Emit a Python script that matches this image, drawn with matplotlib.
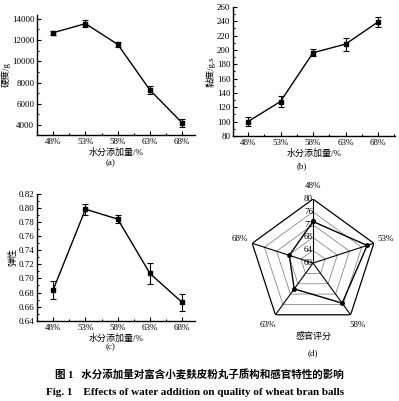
import numpy as np
import matplotlib
matplotlib.use('Agg')
import matplotlib.pyplot as plt
from matplotlib.ticker import MultipleLocator, FormatStrFormatter

plt.rcParams['font.family'] = ['Liberation Serif', 'Noto Sans CJK SC']
plt.rcParams['axes.unicode_minus'] = False

water = ['48%', '53%', '58%', '63%', '68%']

hardness = [12700, 13550, 11600, 7300, 4200]
hardness_err = [200, 300, 250, 400, 400]

viscosity = [100, 128, 196, 208, 239]
viscosity_err = [6, 7, 5, 9, 7]

springiness = [0.684, 0.798, 0.784, 0.707, 0.666]
springiness_err = [0.013, 0.008, 0.006, 0.015, 0.012]

sensory = [73, 77.8, 75.5, 70, 67.8]
radar_levels = [60, 64, 68, 72, 76, 80]

XLABEL = '水分添加量/%'
FS = 6.5


def line_panel(ax, y, err, ylim, ylabel, major, minor, xlim):
    x = np.arange(len(water))
    ax.errorbar(x, y, yerr=err, color='black', lw=1.0, marker='s', ms=3,
                capsize=2.2, elinewidth=0.8, capthick=0.8)
    ax.set_xlim(*xlim)
    ax.set_ylim(*ylim)
    ax.set_xticks(x)
    ax.set_xticklabels(water, fontsize=FS)
    ax.xaxis.set_minor_locator(MultipleLocator(0.5))
    ax.yaxis.set_major_locator(MultipleLocator(major))
    ax.yaxis.set_minor_locator(MultipleLocator(minor))
    ax.tick_params(which='both', direction='in', labelsize=FS, width=0.8, pad=2)
    ax.tick_params(which='major', length=3)
    ax.tick_params(which='minor', length=1.5)
    for s in ['top', 'right']:
        ax.spines[s].set_visible(False)
    for s in ['left', 'bottom']:
        ax.spines[s].set_linewidth(1.0)
    ax.set_xlabel(XLABEL, fontsize=FS, labelpad=1.5)
    ax.set_ylabel(ylabel, fontsize=FS, labelpad=1)


fig = plt.figure(figsize=(3.99, 4.01), dpi=100)

ax_a = fig.add_axes([0.093, 0.663, 0.396, 0.300])
line_panel(ax_a, hardness, hardness_err, (3050, 14380), '硬度/g', 2000, 1000, (-0.5, 4.4))

ax_b = fig.add_axes([0.584, 0.661, 0.406, 0.322])
line_panel(ax_b, viscosity, viscosity_err, (80, 260), '黏度/g.s', 20, 10, (-0.46, 4.52))

ax_c = fig.add_axes([0.093, 0.200, 0.396, 0.317])
line_panel(ax_c, springiness, springiness_err, (0.64, 0.82), '弹性', 0.02, 0.01, (-0.5, 4.4))
ax_c.yaxis.set_major_formatter(FormatStrFormatter('%.2f'))

# radar
ax_d = fig.add_axes([0.624, 0.1845, 0.321, 0.319], projection='polar')
angles = np.linspace(0, 2 * np.pi, len(water), endpoint=False)
closed = np.append(angles, angles[0])
ax_d.set_theta_offset(np.pi / 2)
ax_d.set_theta_direction(-1)
ax_d.set_ylim(60, 80)
ax_d.grid(False)
ax_d.spines['polar'].set_visible(False)
ax_d.set_xticks([])
ax_d.set_yticks([])
ax_d.patch.set_visible(False)

for lv in radar_levels[1:-1]:
    ax_d.plot(closed, [lv] * len(closed), color='0.45', lw=0.5)
ax_d.plot(closed, [radar_levels[-1]] * len(closed), color='black', lw=0.9)
for a in angles:
    ax_d.plot([a, a], [60, 80], color='black', lw=0.8)

vals = np.append(sensory, sensory[0])
ax_d.plot(closed, vals, color='black', lw=1.0, marker='o', ms=2.5)

for lv in radar_levels:
    ax_d.text(0, lv, str(lv), fontsize=FS, ha='right', va='center')
for a, lab in zip(angles, water):
    ax_d.text(a, 84, lab, fontsize=FS, ha='center', va='center')

fig.text(0.785, 0.162, '感官评分', fontsize=FS, ha='center', va='center')

# panel letters
fig.text(0.276, 0.594, '(a)', fontsize=FS, ha='center', va='center')
fig.text(0.757, 0.586, '(b)', fontsize=FS, ha='center', va='center')
fig.text(0.276, 0.135, '(c)', fontsize=FS, ha='center', va='center')
fig.text(0.785, 0.120, '(d)', fontsize=FS, ha='center', va='center')

fig.text(0.5, 0.065, '图 1   水分添加量对富含小麦麸皮粉丸子质构和感官特性的影响',
         fontsize=7.6, fontweight='bold', ha='center', va='center')
fig.text(0.488, 0.022, 'Fig. 1    Effects of water addition on quality of wheat bran balls',
         fontsize=8.0, fontweight='bold', ha='center', va='center')

fig.savefig('out.png', dpi=100)
